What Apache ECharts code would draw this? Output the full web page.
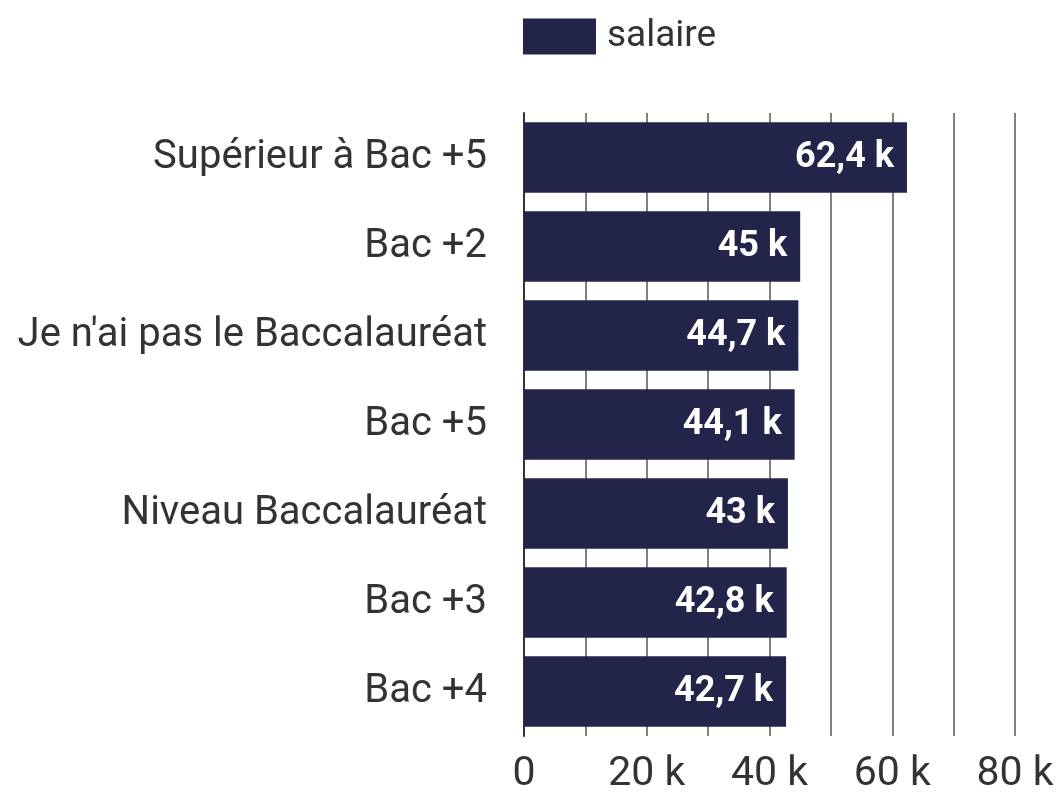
<!DOCTYPE html>
<html>
<head>
<meta charset="utf-8">
<script src="https://cdn.jsdelivr.net/npm/echarts@6/dist/echarts.min.js"></script>
<style>
  html, body { margin: 0; padding: 0; background: #fff; }
  #chart { width: 1058px; height: 795px; }
</style>
</head>
<body>
<div id="chart"></div>
<script>
  // niveaux d'études, du haut vers le bas
  var categories = ['Supérieur à Bac +5', 'Bac +2', "Je n'ai pas le Baccalauréat", 'Bac +5', 'Niveau Baccalauréat', 'Bac +3', 'Bac +4'];
  var salaire = [62400, 45000, 44700, 44100, 43000, 42800, 42700];
  var xTicks = [0, 20000, 40000, 60000, 80000];

  function fmtK(v) {
    return String(v / 1000).replace('.', ',') + ' k';
  }

  var chart = echarts.init(document.getElementById('chart'));
  chart.setOption({
    animation: false,
    textStyle: { fontFamily: 'Roboto' },
    legend: {
      data: [{ name: 'salaire', icon: 'rect' }],
      top: 13,
      left: 518,
      itemWidth: 73,
      itemHeight: 36,
      textStyle: { fontSize: 37, color: '#333', fontFamily: 'Roboto', padding: [0, 0, 0, 6] }
    },
    grid: { left: 524, right: 43, top: 113, bottom: 58, containLabel: false },
    xAxis: {
      type: 'value',
      min: 0,
      max: 80000,
      interval: 10000,
      axisLine: { show: false },
      axisTick: { show: false },
      splitLine: { show: true, lineStyle: { color: '#808080', width: 2 } },
      axisLabel: {
        fontSize: 41,
        color: '#333',
        margin: 18,
        formatter: function (v) {
          if (xTicks.indexOf(v) < 0) return '';
          return v === 0 ? '0' : fmtK(v);
        }
      }
    },
    yAxis: {
      type: 'category',
      inverse: true,
      data: categories,
      axisLine: { show: true, lineStyle: { color: '#333', width: 2 } },
      axisTick: { show: false },
      axisLabel: { fontSize: 40, color: '#333', margin: 37 }
    },
    series: [{
      name: 'salaire',
      type: 'bar',
      data: salaire,
      barCategoryGap: '21%',
      itemStyle: { color: '#22244a' },
      label: {
        show: true,
        position: 'insideRight',
        distance: 13,
        color: '#fff',
        fontWeight: 'bold',
        fontSize: 36,
        formatter: function (p) { return fmtK(p.value); }
      }
    }]
  });
</script>
</body>
</html>
